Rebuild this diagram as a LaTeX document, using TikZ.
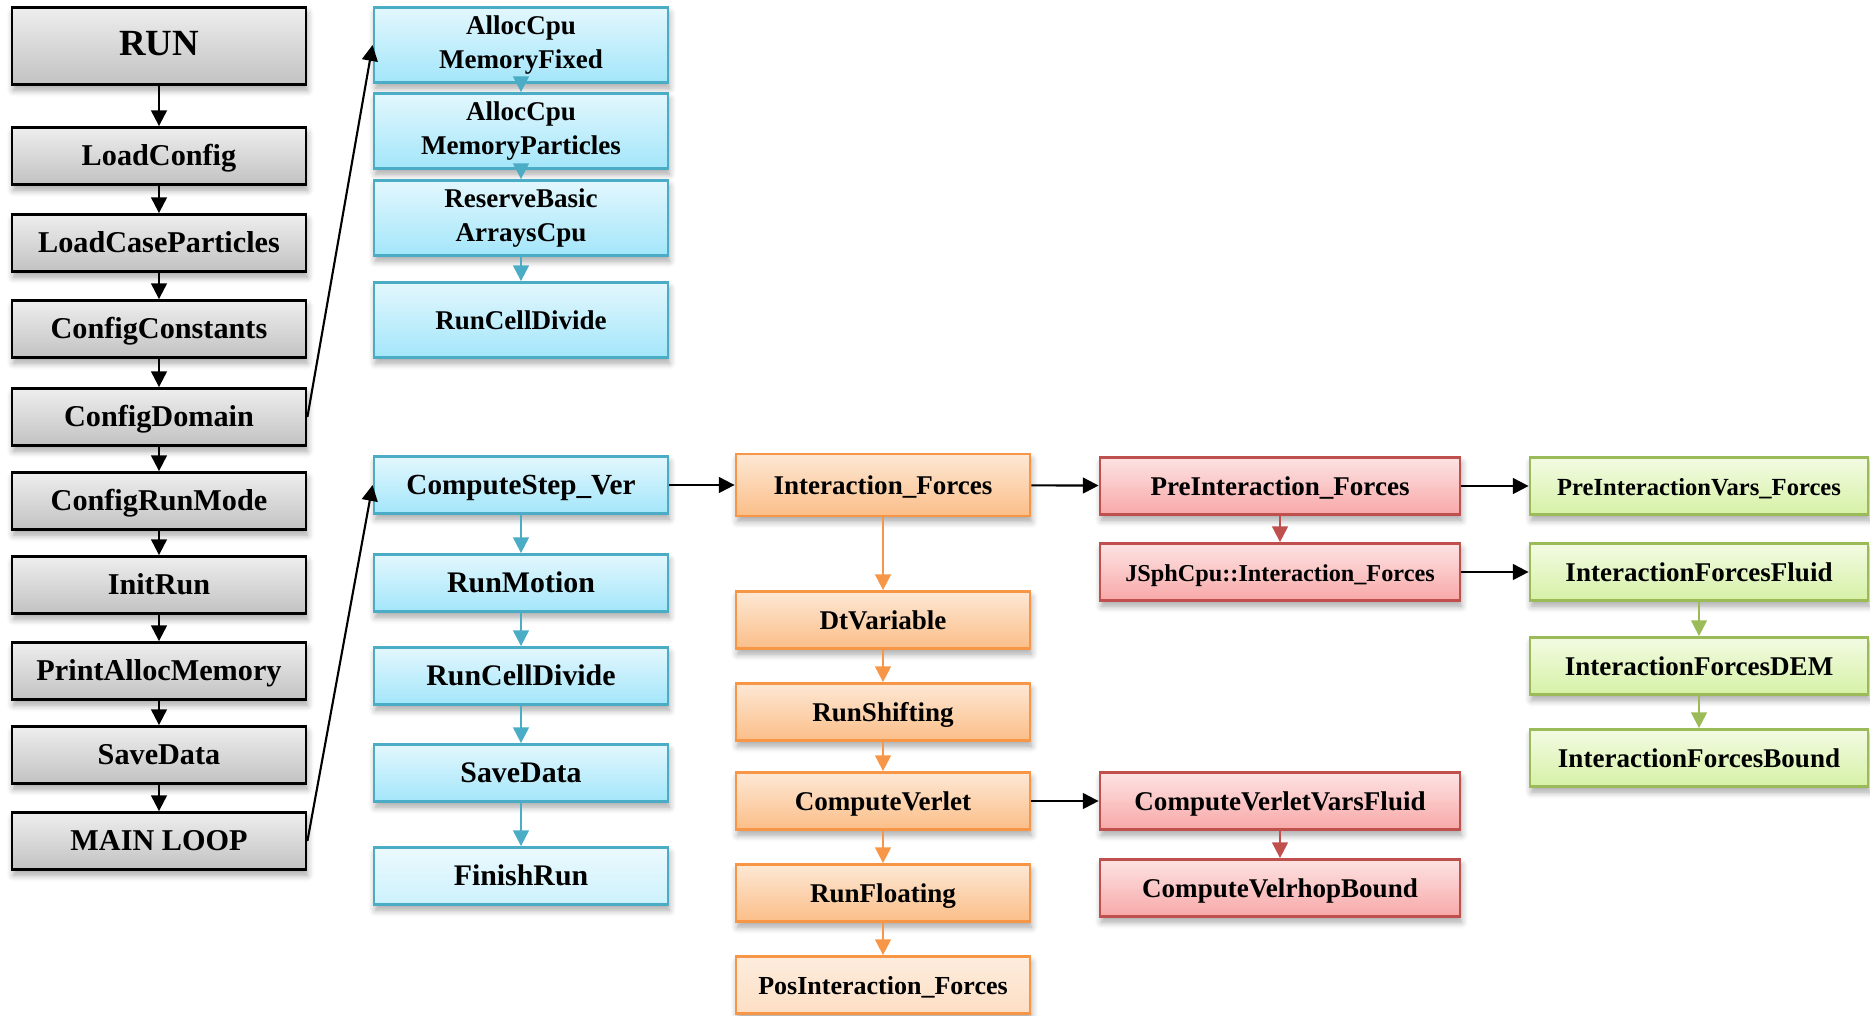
\documentclass[tikz,border=0pt]{standalone}
\usepackage{fontspec}
\setmainfont{Liberation Serif}
\usetikzlibrary{arrows.meta,shadows.blur}

\definecolor{grayTop}{HTML}{EEEEEE}
\definecolor{grayBot}{HTML}{C2C2C2}
\definecolor{blueLine}{HTML}{4BACC6}
\definecolor{blueTop}{HTML}{E3F7FD}
\definecolor{blueBot}{HTML}{A3E6FA}
\definecolor{orangeLine}{HTML}{F79646}
\definecolor{orangeTop}{HTML}{FDE8D5}
\definecolor{orangeBot}{HTML}{FBBE88}
\definecolor{redLine}{HTML}{C0504D}
\definecolor{redTop}{HTML}{FDE3E3}
\definecolor{redBot}{HTML}{F8A8A8}
\definecolor{greenLine}{HTML}{9BBB59}
\definecolor{greenTop}{HTML}{F3FBE3}
\definecolor{greenBot}{HTML}{D6F1A6}

\tikzset{
  box/.style={draw, line width=0.8pt, minimum width=2.94cm, minimum height=0.57cm,
    align=center, inner sep=1pt, text height=1.65ex, text depth=0.45ex,
    font=\bfseries\fontsize{7.7}{9.5}\selectfont,
    blur shadow={shadow xshift=0.4pt, shadow yshift=-1.6pt, shadow blur steps=6, shadow opacity=35}},
  twolines/.style={text height=, text depth=, minimum height=0.75cm},
  graybox/.style={box, draw=black, top color=grayTop, bottom color=grayBot, font=\bfseries\fontsize{8.6}{10}\selectfont},
  bluebox/.style={box, draw=blueLine, top color=blueTop, bottom color=blueBot},
  orangebox/.style={box, draw=orangeLine, top color=orangeTop, bottom color=orangeBot},
  redbox/.style={box, draw=redLine, top color=redTop, bottom color=redBot, minimum width=3.6cm},
  greenbox/.style={box, draw=greenLine, top color=greenTop, bottom color=greenBot, minimum width=3.38cm},
  tip/.style={-{Triangle[length=4.5pt,width=4.5pt]}, line width=0.6pt},
  karrow/.style={tip, black},
  barrow/.style={tip, blueLine},
  oarrow/.style={tip, orangeLine},
  rarrow/.style={tip, redLine},
  garrow/.style={tip, greenLine}
}

\begin{document}
\begin{tikzpicture}[x=0.1mm, y=-0.1mm]
  \useasboundingbox (0,0) rectangle (1870,1015);

  % main sequence
  \node[graybox, minimum height=0.77cm, font=\bfseries\fontsize{10.5}{12}\selectfont] (run) at (159,46) {RUN};
  \node[graybox] (loadcfg) at (159,156) {LoadConfig};
  \node[graybox] (loadcase) at (159,243) {LoadCaseParticles};
  \node[graybox] (cfgconst) at (159,329) {ConfigConstants};
  \node[graybox] (cfgdom) at (159,417) {ConfigDomain};
  \node[graybox] (cfgrun) at (159,501) {ConfigRunMode};
  \node[graybox] (initrun) at (159,585) {InitRun};
  \node[graybox] (printmem) at (159,671) {PrintAllocMemory};
  \node[graybox] (savedata) at (159,755) {SaveData};
  \node[graybox] (mainloop) at (159,841) {MAIN LOOP};

  \draw[karrow] (run) -- (loadcfg);
  \draw[karrow] (loadcfg) -- (loadcase);
  \draw[karrow] (loadcase) -- (cfgconst);
  \draw[karrow] (cfgconst) -- (cfgdom);
  \draw[karrow] (cfgdom) -- (cfgrun);
  \draw[karrow] (cfgrun) -- (initrun);
  \draw[karrow] (initrun) -- (printmem);
  \draw[karrow] (printmem) -- (savedata);
  \draw[karrow] (savedata) -- (mainloop);

  % ConfigDomain
  \node[bluebox, twolines] (allocfix) at (521,45) {AllocCpu\\MemoryFixed};
  \node[bluebox, twolines] (allocpart) at (521,131) {AllocCpu\\MemoryParticles};
  \node[bluebox, twolines] (reserve) at (521,218) {ReserveBasic\\ArraysCpu};
  \node[bluebox, minimum height=0.75cm] (celldiv) at (521,320) {RunCellDivide};

  \draw[karrow] (cfgdom.east) -- (allocfix.west);
  \draw[barrow] (allocfix) -- (allocpart);
  \draw[barrow] (allocpart) -- (reserve);
  \draw[barrow] (reserve) -- (celldiv);

  % main loop
  \node[bluebox, font=\bfseries\fontsize{8.3}{10}\selectfont] (step) at (521,485) {ComputeStep\_Ver};
  \node[bluebox, font=\bfseries\fontsize{8.5}{10}\selectfont] (motion) at (521,583) {RunMotion};
  \node[bluebox, font=\bfseries\fontsize{8.5}{10}\selectfont] (celldiv2) at (521,676) {RunCellDivide};
  \node[bluebox, font=\bfseries\fontsize{8.5}{10}\selectfont] (save2) at (521,773) {SaveData};
  \node[bluebox, font=\bfseries\fontsize{8.5}{10}\selectfont, top color=blueTop!70, bottom color=blueBot!55] (finish) at (521,876) {FinishRun};

  \draw[karrow] (mainloop.east) -- (step.west);
  \draw[barrow] (step) -- (motion);
  \draw[barrow] (motion) -- (celldiv2);
  \draw[barrow] (celldiv2) -- (save2);
  \draw[barrow] (save2) -- (finish);

  % ComputeStep_Ver
  \node[orangebox, minimum height=0.62cm] (interforces) at (883,485) {Interaction\_Forces};
  \node[orangebox] (dtvar) at (883,620) {DtVariable};
  \node[orangebox] (shifting) at (883,712) {RunShifting};
  \node[orangebox] (verlet) at (883,801) {ComputeVerlet};
  \node[orangebox] (floating) at (883,893) {RunFloating};
  \node[orangebox, font=\bfseries\fontsize{7.4}{9}\selectfont, top color=orangeTop!80, bottom color=orangeBot!50] (posinter) at (883,985) {PosInteraction\_Forces};

  \draw[karrow] (step) -- (interforces);
  \draw[oarrow] (interforces) -- (dtvar);
  \draw[oarrow] (dtvar) -- (shifting);
  \draw[oarrow] (shifting) -- (verlet);
  \draw[oarrow] (verlet) -- (floating);
  \draw[oarrow] (floating) -- (posinter);

  % Interaction_Forces and ComputeVerlet
  \node[redbox] (preinter) at (1280,486) {PreInteraction\_Forces};
  \node[redbox, font=\bfseries\fontsize{6.9}{9}\selectfont] (jsph) at (1280,572) {JSphCpu::Interaction\_Forces};
  \node[redbox] (verletfluid) at (1280,801) {ComputeVerletVarsFluid};
  \node[redbox] (velrhop) at (1280,888) {ComputeVelrhopBound};

  \draw[karrow] (interforces) -- (preinter);
  \draw[rarrow] (preinter) -- (jsph);
  \draw[karrow] (verlet) -- (verletfluid);
  \draw[rarrow] (verletfluid) -- (velrhop);

  % JSphCpu
  \node[greenbox, font=\bfseries\fontsize{7}{9}\selectfont] (prevars) at (1699,486) {PreInteractionVars\_Forces};
  \node[greenbox] (fluid) at (1699,572) {InteractionForcesFluid};
  \node[greenbox] (dem) at (1699,666) {InteractionForcesDEM};
  \node[greenbox] (bound) at (1699,758) {InteractionForcesBound};

  \draw[karrow] (preinter) -- (prevars);
  \draw[karrow] (jsph) -- (fluid);
  \draw[garrow] (fluid) -- (dem);
  \draw[garrow] (dem) -- (bound);
\end{tikzpicture}
\end{document}
